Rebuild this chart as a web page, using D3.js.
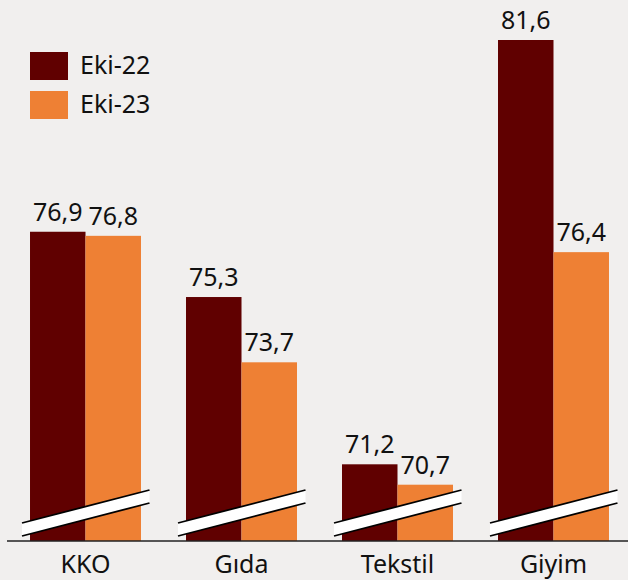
<!DOCTYPE html>
<html><head><meta charset="utf-8">
<script src="https://cdn.jsdelivr.net/npm/d3@7"></script>
<style>
html,body{margin:0;padding:0;background:#f1efee;}
svg{display:block;font-family:"Noto Sans",sans-serif;}
</style></head>
<body>
<svg id="chart" width="628" height="580"></svg>
<script>
const categories = ["KKO", "Gıda", "Tekstil", "Giyim"];
const seriesNames = ["Eki-22", "Eki-23"];
const eki22 = [76.9, 75.3, 71.2, 81.6];
const eki23 = [76.8, 73.7, 70.7, 76.4];
const colors = ["#600000", "#ee8034"];

const svg = d3.select("#chart");
const W = 628, H = 580;
const baseY = 541;
svg.append("rect").attr("width", W).attr("height", H).attr("fill", "#f1efee");

const x = d3.scaleBand().domain(categories).range([7.5, 631.5]).paddingInner(0.2885).paddingOuter(0.1443);
const xs = d3.scaleBand().domain(seriesNames).range([0, x.bandwidth()]);
const y = d3.scaleLinear().domain([69.32, 81.6]).range([baseY, 40]);

const fmt = v => d3.format(".1f")(v).replace(".", ",");
const data = categories.map((c, i) => ({cat: c, vals: [eki22[i], eki23[i]]}));

const g = svg.selectAll("g.grp").data(data).join("g").attr("class", "grp")
  .attr("transform", d => `translate(${x(d.cat)},0)`);

g.selectAll("rect").data(d => d.vals.map((v, j) => ({v, s: seriesNames[j], j})))
  .join("rect")
  .attr("x", d => xs(d.s))
  .attr("y", d => y(d.v))
  .attr("width", xs.bandwidth())
  .attr("height", d => baseY - y(d.v))
  .attr("fill", d => colors[d.j]);

g.selectAll("text.val").data(d => d.vals.map((v, j) => ({v, s: seriesNames[j], j})))
  .join("text").attr("class", "val")
  .attr("x", d => xs(d.s) + xs.bandwidth() / 2)
  .attr("y", d => y(d.v) - 11)
  .attr("text-anchor", "middle")
  .attr("font-size", 25)
  .attr("fill", "#111")
  .text(d => fmt(d.v));

// break marks
g.each(function() {
  const cx = x.bandwidth() / 2;
  const sel = d3.select(this);
  const x0 = cx - 63.5, x1 = cx + 64;
  const yl = 523, yr = 490, th = 13;
  sel.append("path")
    .attr("d", `M${x0},${yl}L${x1},${yr}L${x1},${yr + th}L${x0},${yl + th}Z`)
    .attr("fill", "#ffffff");
  sel.append("line").attr("x1", x0).attr("y1", yl).attr("x2", x1).attr("y2", yr)
    .attr("stroke", "#000").attr("stroke-width", 1.8);
  sel.append("line").attr("x1", x0).attr("y1", yl + th).attr("x2", x1).attr("y2", yr + th)
    .attr("stroke", "#000").attr("stroke-width", 1.8);
});

// axis
const axis = svg.append("g").attr("transform", `translate(0,${baseY})`)
  .call(d3.axisBottom(x).tickSize(0).tickPadding(8));
axis.select(".domain").attr("d", `M7,0H628`).attr("stroke", "#222").attr("stroke-width", 1.5);
axis.selectAll(".tick text").attr("font-size", 25).attr("fill", "#111")
  .attr("font-family", "Noto Sans, sans-serif").attr("dy", null).attr("y", 32);

// legend
const leg = svg.append("g");
seriesNames.forEach((s, i) => {
  leg.append("rect").attr("x", 30).attr("y", 52 + i * 39).attr("width", 38).attr("height", 28).attr("fill", colors[i]);
  leg.append("text").attr("x", 80).attr("y", 74 + i * 39).attr("font-size", 25).attr("fill", "#111").text(s);
});
</script>
</body></html>
